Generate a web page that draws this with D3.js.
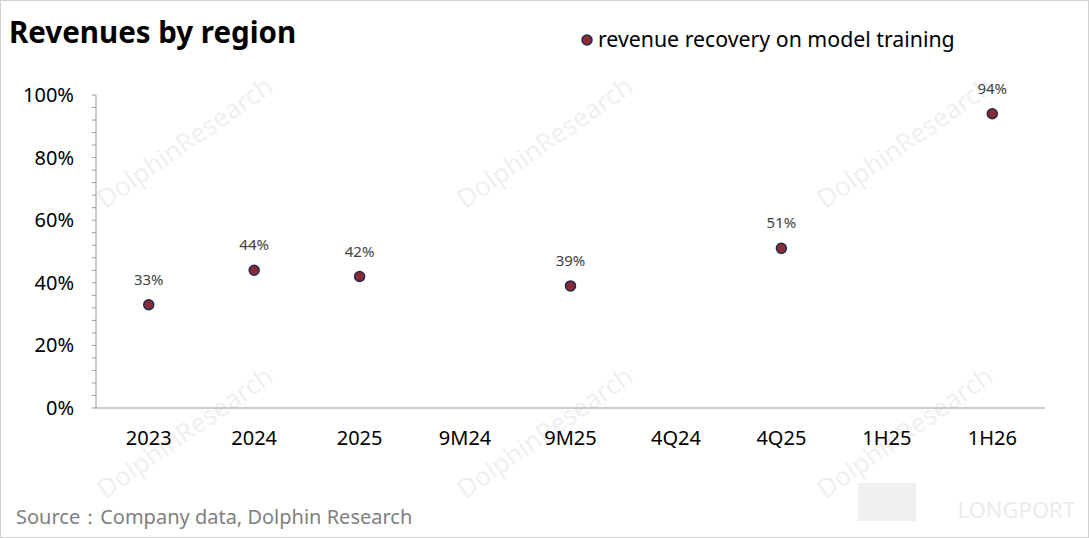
<!DOCTYPE html>
<html>
<head>
<meta charset="utf-8">
<script src="https://cdn.jsdelivr.net/npm/d3@7"></script>
<style>
  body { margin: 0; background: #fff; }
  text { font-family: "Noto Sans", "DejaVu Sans", sans-serif; }
</style>
</head>
<body>
<svg id="chart" width="1089" height="538"></svg>
<script>
var categories = ["2023", "2024", "2025", "9M24", "9M25", "4Q24", "4Q25", "1H25", "1H26"];
var recovery = [33, 44, 42, null, 39, null, 51, null, 94];
var yTicks = [0, 20, 40, 60, 80, 100];

var svg = d3.select("#chart");
svg.append("rect").attr("x", 0.5).attr("y", 0.5).attr("width", 1088).attr("height", 537)
  .attr("fill", "#fff").attr("stroke", "#d0d0d0");

// watermarks
var wm = [[190, 150], [550, 150], [910, 150], [190, 440], [550, 440], [910, 440]];
wm.forEach(function(p) {
  svg.append("text").attr("transform", "translate(" + p[0] + "," + p[1] + ") rotate(-35)")
    .attr("text-anchor", "middle").attr("font-size", 26).attr("fill", "#000")
    .attr("opacity", 0.06).text("DolphinResearch");
});
svg.append("text").attr("x", 1075).attr("y", 518).attr("text-anchor", "end")
  .attr("font-size", 22).attr("fill", "#000").attr("opacity", 0.08).text("LONGPORT");
svg.append("rect").attr("x", 858).attr("y", 483).attr("width", 58).attr("height", 38)
  .attr("fill", "#000").attr("opacity", 0.06);

var x = d3.scaleBand().domain(categories).range([96, 1045]);
var y = d3.scaleLinear().domain([0, 100]).range([408, 95]);

// title
svg.append("text").attr("x", 9).attr("y", 43).attr("font-size", 29.5).attr("font-weight", "bold")
  .attr("fill", "#000").text("Revenues by region");

// y axis
svg.append("line").attr("x1", 96).attr("x2", 96).attr("y1", y(100)).attr("y2", y(0)).attr("stroke", "#999");
d3.range(0, 101, 4).forEach(function(v) {
  svg.append("line").attr("x1", 92).attr("x2", 96).attr("y1", y(v)).attr("y2", y(v)).attr("stroke", "#999");
});
svg.selectAll(".yl").data(yTicks).enter().append("text")
  .attr("x", 74).attr("y", function(d) { return y(d) + 7; }).attr("text-anchor", "end")
  .attr("font-size", 20).attr("fill", "#000").text(function(d) { return d + "%"; });

// x axis
svg.append("line").attr("x1", 96).attr("x2", 1045).attr("y1", y(0)).attr("y2", y(0)).attr("stroke", "#999");
svg.selectAll(".xl").data(categories).enter().append("text")
  .attr("x", function(d) { return x(d) + x.bandwidth() / 2; }).attr("y", 445)
  .attr("text-anchor", "middle").attr("font-size", 20).attr("fill", "#000").text(function(d) { return d; });

// points
var pts = categories.map(function(c, i) { return { c: c, v: recovery[i] }; }).filter(function(d) { return d.v != null; });
svg.selectAll(".pt").data(pts).enter().append("circle")
  .attr("cx", function(d) { return x(d.c) + x.bandwidth() / 2; }).attr("cy", function(d) { return y(d.v); })
  .attr("r", 5).attr("fill", "#8b2a35").attr("stroke", "#1f2a4f").attr("stroke-width", 1.5);
svg.selectAll(".pl").data(pts).enter().append("text")
  .attr("x", function(d) { return x(d.c) + x.bandwidth() / 2; }).attr("y", function(d) { return y(d.v) - 20; })
  .attr("text-anchor", "middle").attr("font-size", 15).attr("fill", "#404040").text(function(d) { return d.v + "%"; });

// legend
svg.append("circle").attr("cx", 587).attr("cy", 40).attr("r", 5).attr("fill", "#8b2a35")
  .attr("stroke", "#1f2a4f").attr("stroke-width", 1.5);
svg.append("text").attr("x", 598).attr("y", 47).attr("font-size", 21.3).attr("fill", "#000")
  .text("revenue recovery on model training");

// source
svg.append("text").attr("x", 16).attr("y", 524).attr("font-size", 20).attr("fill", "#7f7f7f")
  .text("Source：Company data, Dolphin Research");
</script>
</body>
</html>
